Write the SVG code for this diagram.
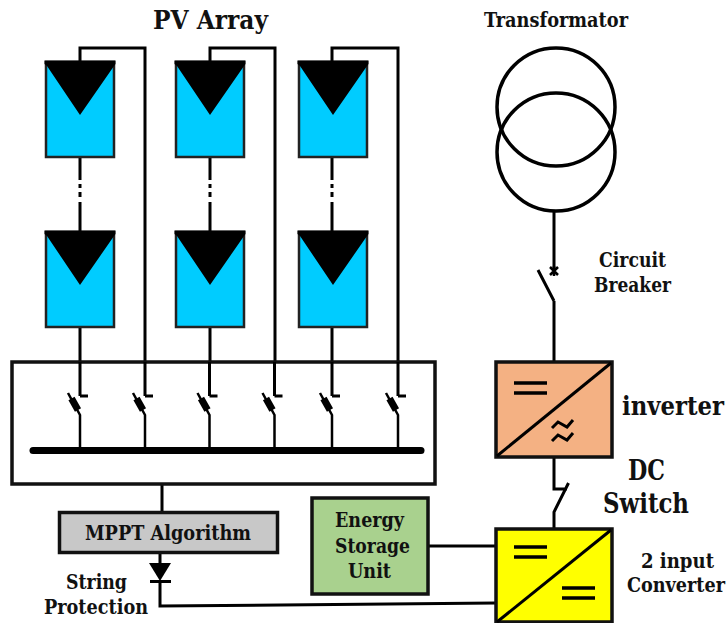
<svg xmlns="http://www.w3.org/2000/svg" width="727" height="623" viewBox="0 0 727 623">
<style>
text{font-family:"DejaVu Serif Condensed","DejaVu Serif","Liberation Serif",serif;font-weight:700;fill:#111}
.w{fill:none;stroke:#000;stroke-width:3}
.t{stroke-width:2.500}
.p{fill:#00ccff;stroke:#222;stroke-width:2.500}
.f{stroke:#000;stroke-width:7}
</style>
<defs>
<g id="panel"><rect class="p" x="46" y="62" width="68" height="95"/><path d="M44.500 60.500H115.500V64L114 66L80 115L47 66L44.500 64Z" fill="#000"/></g>
<g id="sw"><path class="w" d="M0 362V396M0 396H8"/><path class="w t" d="M-12 393L0 415V450"/><path class="f" d="M-8.500 398.500L-2 410"/></g>
<g id="eq"><path d="M0 0H33M0 10H33" fill="none" stroke="#000" stroke-width="3.500"/></g>
</defs>
<rect width="727" height="623" fill="#fff"/>
<g id="connectors">
<path class="w" d="M80 62V48H145V362M210 62V48H275V362M332 62V48H398V362"/>
<path class="w" d="M80 157V180M80 184V188M80 192V197M80 202V232M210 157V180M210 184V188M210 192V197M210 202V232M332 157V180M332 184V188M332 192V197M332 202V232"/>
<path class="w" d="M80 327V362M210 327V362M332 327V362M162 484V512M160 552V563M160 581V606L496 603M428 546H496M554 211V271M554 301V362M538 270L554 301M554 457V489H567M568.500 483L554 512V529"/>
<path d="M550 267L558 275M558 267L550 275M554 266V276" fill="none" stroke="#000" stroke-width="2.500"/>
</g>
<g id="pv-1"><use href="#panel"/></g>
<g id="pv-2"><use href="#panel" x="130"/></g>
<g id="pv-3"><use href="#panel" x="253"/></g>
<g id="pv-4"><use href="#panel" y="170"/></g>
<g id="pv-5"><use href="#panel" x="130" y="170"/></g>
<g id="pv-6"><use href="#panel" x="253" y="170"/></g>
<g id="combiner">
<rect x="12" y="362" width="423" height="122" fill="none" stroke="#111" stroke-width="3.500"/>
<use href="#sw" x="80"/><use href="#sw" x="145"/><use href="#sw" x="209.500"/><use href="#sw" x="274.500"/><use href="#sw" x="332"/><use href="#sw" x="398"/>
<path d="M33 450.500H421" stroke="#000" stroke-width="7" stroke-linecap="round"/>
</g>
<g id="mppt"><rect x="59.500" y="512.500" width="218" height="40" fill="#c8c8c8" stroke="#111" stroke-width="3.500"/>
<text x="85" y="540" font-size="20" textLength="166" lengthAdjust="spacingAndGlyphs">MPPT Algorithm</text></g>
<g id="diode"><path d="M149 563H171L160 581Z" fill="#000"/><path class="w" d="M150 581.500H171"/>
<text x="66" y="589" font-size="20" textLength="61" lengthAdjust="spacingAndGlyphs">String</text>
<text x="44" y="614" font-size="20" textLength="104" lengthAdjust="spacingAndGlyphs">Protection</text></g>
<g id="storage"><rect x="312" y="498" width="116" height="96" fill="#a9d18e" stroke="#111" stroke-width="3.500"/>
<text x="335" y="527" font-size="20" textLength="69" lengthAdjust="spacingAndGlyphs">Energy</text>
<text x="335" y="553" font-size="20" textLength="75" lengthAdjust="spacingAndGlyphs">Storage</text>
<text x="348" y="578" font-size="20" textLength="43" lengthAdjust="spacingAndGlyphs">Unit</text></g>
<g id="converter"><rect x="496" y="529" width="116" height="93" fill="#ffff00" stroke="#111" stroke-width="3.500"/>
<path d="M497 622L611 530" fill="none" stroke="#000" stroke-width="3"/>
<use href="#eq" x="514" y="547"/><use href="#eq" x="562" y="588"/>
<text x="641" y="568" font-size="20" textLength="73" lengthAdjust="spacingAndGlyphs">2 input</text>
<text x="627" y="592" font-size="20" textLength="98" lengthAdjust="spacingAndGlyphs">Converter</text></g>
<g id="inverter"><rect x="496" y="362" width="116" height="95" fill="#f4b183" stroke="#111" stroke-width="3.500"/>
<path d="M497 456L611 363" fill="none" stroke="#000" stroke-width="3"/>
<use href="#eq" x="514" y="383"/>
<path d="M552 428L558 422L567 427L573 420M552 441L558 435L567 440L573 433" fill="none" stroke="#000" stroke-width="3"/>
<text x="622" y="415" font-size="26" textLength="102" lengthAdjust="spacingAndGlyphs">inverter</text></g>
<g id="transformer"><circle cx="556" cy="107" r="59" fill="none" stroke="#000" stroke-width="3.500"/><circle cx="556" cy="152" r="59" fill="none" stroke="#000" stroke-width="3.500"/>
<text x="484" y="27" font-size="20" textLength="144" lengthAdjust="spacingAndGlyphs">Transformator</text></g>
<g id="labels">
<text x="153" y="29" font-size="26" textLength="115" lengthAdjust="spacingAndGlyphs">PV Array</text>
<text x="599" y="267" font-size="20" textLength="67" lengthAdjust="spacingAndGlyphs">Circuit</text>
<text x="594" y="292" font-size="20" textLength="77" lengthAdjust="spacingAndGlyphs">Breaker</text>
<text x="628" y="480" font-size="27" textLength="37" lengthAdjust="spacingAndGlyphs">DC</text>
<text x="603" y="513" font-size="27" textLength="86" lengthAdjust="spacingAndGlyphs">Switch</text>
</g>
</svg>
